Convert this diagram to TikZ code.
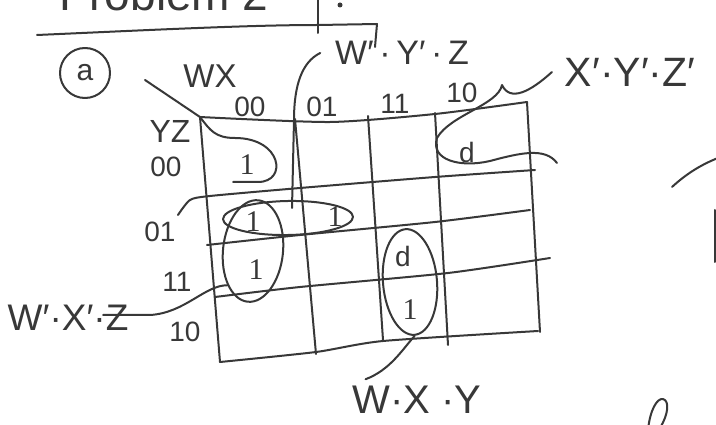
\documentclass[tikz,border=0pt]{standalone}
\usepackage{fontspec}
\setmainfont{Liberation Sans}
\newfontfamily\onefont{Liberation Serif}
\usetikzlibrary{shapes.geometric}
\definecolor{ink}{HTML}{383838}
\begin{document}
\begin{tikzpicture}[x=1pt,y=-1pt,line width=2pt,draw=ink,line cap=round,line join=round,
  hw/.style={text=ink,inner sep=0pt,font=\fontsize{28}{28}\selectfont},
  one/.style={text=ink,inner sep=0pt,font=\onefont\fontsize{30}{30}\selectfont},
  big/.style={text=ink,inner sep=0pt,font=\fontsize{37}{37}\selectfont},
  grp/.style={draw=ink,ellipse,inner sep=0pt},
  gridline/.style={draw=ink,line width=2pt}]
\useasboundingbox (0,0) rectangle (716,425);
\clip (0,0) rectangle (716,425);
\fill[white] (0,0) rectangle (716,425);

% title fragment
\node[text=ink,inner sep=0pt,font=\fontsize{46}{46}\selectfont,anchor=base west] (title) at (58,11) {Problem 2};
\draw (37,35) .. controls (150,30) and (250,25) .. (318,25) -- (377,24) -- (375,47);
\draw (318,-2) -- (318,33);
\fill[ink] (340,5) circle (2.5);

% part label
\node[draw=ink,circle,minimum size=50pt,inner sep=0pt,text=ink,font=\fontsize{30}{30}\selectfont] (parta) at (85,73) {a};

% grid
\draw[gridline] plot[smooth,tension=0.4] coordinates {(200,117) (330,122) (435,114) (527,102)};
\draw[gridline] plot[smooth,tension=0.4] coordinates {(178,215) (190,200) (210,196) (300,188) (435,177) (535,170)};
\draw[gridline] plot[smooth,tension=0.4] coordinates {(207,245) (300,235) (435,222) (530,210)};
\draw[gridline] plot[smooth,tension=0.4] coordinates {(215,297) (300,287) (448,273) (550,258)};
\draw[gridline] plot[smooth,tension=0.4] coordinates {(220,362) (316,352) (383,341) (538,331)};
\draw[gridline] (200,117) -- (220,362);
\draw[gridline] (295,119) -- (316,354);
\draw[gridline] (368,116) -- (383,340);
\draw[gridline] (435,113) -- (448,345);
\draw[gridline] (527,102) -- (540,332);

% axis labels
\node[hw,font=\fontsize{33}{33}\selectfont] (wx) at (210,76) {WX};
\node[hw,font=\fontsize{32}{32}\selectfont] (yz) at (170,131) {YZ};
\node[hw] (c00) at (250,107) {00};
\node[hw] (c01) at (322,107) {01};
\node[hw] (c11) at (395,104) {11};
\node[hw] (c10) at (462,93) {10};
\node[hw] (r00) at (166,167) {00};
\node[hw] (r01) at (160,232) {01};
\node[hw] (r11) at (177,282) {11};
\node[hw] (r10) at (185,332) {10};

% cell entries
\node[one] (m0000) at (247,165) {1};
\node[hw] (m0010) at (467,152) {d};
\node[one] (m0100) at (253,222) {1};
\node[one] (m0101) at (335,217) {1};
\node[one] (m1100) at (256,270) {1};
\node[hw] (m1111) at (403,256) {d};
\node[one] (m1011) at (410,310) {1};

% groups
\node[grp,minimum width=130pt,minimum height=34pt,rotate=1] (gWYZ) at (288,218) {};
\node[grp,minimum width=60pt,minimum height=102pt,rotate=-6] (gWXZ) at (253,251) {};
\node[grp,minimum width=54pt,minimum height=106pt,rotate=5] (gWXY) at (410,282) {};

% corner diagonal and loop around 1 in cell 00/00
\draw (145,80) -- (200,117) .. controls (210,130) and (215,138) .. (235,138)
  .. controls (282,138) and (288,182) .. (258,182) -- (233,182);

% term labels
\node[big,font=\fontsize{34}{34}\selectfont] (wyz) at (402,53) {W′\,·\,Y′\,·\,Z};
\node[big,font=\fontsize{41}{41}\selectfont] (xyz) at (630,72) {X′·Y′·Z′};
\node[big] (wxz) at (68,318) {W′·X′·Z};
\node[big,font=\fontsize{40}{40}\selectfont] (wxy) at (417,400) {W·X ·Y};

\coordinate (eWYZ) at (292,208);
\coordinate (sWXZ) at (103,315);

% connectors
\draw ([xshift=-14pt]wyz.west) .. controls (302,62) and (294,85) .. (294,120) -- (eWYZ);
\draw ([xshift=-12pt]xyz.west) .. controls (530,92) and (510,102) .. (502,85)
  .. controls (498,105) and (450,115) .. (437,138)
  .. controls (430,160) and (460,168) .. (490,161)
  .. controls (520,153) and (545,147) .. (557,163);
\draw (sWXZ) -- (150,315) .. controls (185,313) and (205,285) .. (gWXZ.south west);
\draw (gWXY.south) .. controls (402,350) and (390,370) .. ([xshift=14pt,yshift=6pt]wxy.north west);

% stray strokes at the right edge
\draw (672,187) .. controls (685,175) and (700,165) .. (718,158);
\draw (715,210) -- (715,262);
\draw (648,430) .. controls (650,410) and (657,398) .. (663,399) .. controls (670,401) and (668,415) .. (660,428);
\end{tikzpicture}
\end{document}
